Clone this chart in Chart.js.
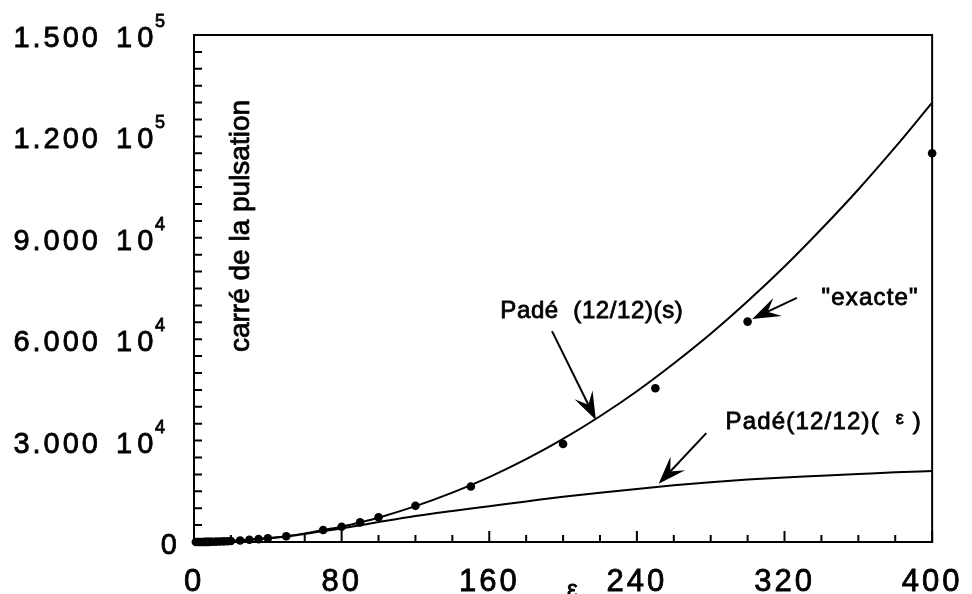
<!DOCTYPE html>
<html>
<head>
<meta charset="utf-8">
<script src="https://cdn.jsdelivr.net/npm/chart.js@4.4.1/dist/chart.umd.min.js"></script>
<style>
  html, body { margin: 0; padding: 0; background: #fff; }
</style>
</head>
<body>
<canvas id="pulsationChart" width="972" height="594"></canvas>
<script>
const FONT = '"Liberation Sans", Arial, Helvetica, sans-serif';

const xTickValues = [0, 80, 160, 240, 320, 400];
const yTickValues = [0, 30000, 60000, 90000, 120000, 150000];
const yTickMantissa = ['0', '3.000', '6.000', '9.000', '1.200', '1.500'];
const yTickPower = ['', '4', '4', '4', '5', '5'];
const xMinorStep = 20;
const yMinorStep = 5000;

// Padé (12/12)(s)
const padeSX = [0, 10, 20, 30, 40, 50, 60, 70, 80, 90, 100, 120, 140, 160, 180, 200, 220, 240, 260, 280, 300, 320, 340, 360, 380, 400];
const padeSY = [0, 75, 300, 650, 1100, 1700, 2550, 3550, 4500, 5800, 7200, 10600, 14600, 19200, 24500, 30500, 37200, 44600, 52800, 61600, 71200, 81500, 92600, 104300, 116800, 130000];

// Padé (12/12)(eps)
const padeEpsX = [0, 10, 20, 30, 40, 50, 60, 70, 80, 90, 100, 120, 140, 160, 180, 200, 220, 240, 260, 280, 300, 320, 340, 360, 380, 400];
const padeEpsY = [0, 75, 300, 650, 1100, 1650, 2400, 3200, 4000, 4950, 5900, 7700, 9200, 10600, 12000, 13400, 14600, 15700, 16800, 17700, 18500, 19100, 19600, 20100, 20600, 21000];

// "exacte"
const exactX = [1, 2, 3, 4, 5, 6, 7, 8, 9, 10, 12, 14, 16, 18, 20, 25, 30, 35, 40, 50, 70, 80, 90, 100, 120, 150, 200, 250, 300, 400];
const exactY = [1, 3, 7, 12, 19, 27, 37, 48, 61, 75, 108, 147, 192, 243, 300, 460, 650, 860, 1100, 1700, 3550, 4500, 5800, 7300, 10700, 16400, 29000, 45500, 65200, 115000];

function toPoints(xs, ys) {
    let pts = [];
    for (let i in xs) {
        pts.push({ x: xs[i], y: ys[i] });
    }
    return pts;
}

function drawArrow(ctx, x1, y1, x2, y2) {
    const ang = Math.atan2(y2 - y1, x2 - x1);
    const len = 28, half = 10, notch = 17;
    ctx.beginPath();
    ctx.moveTo(x1, y1);
    ctx.lineTo(x2 - Math.cos(ang) * notch, y2 - Math.sin(ang) * notch);
    ctx.stroke();
    ctx.beginPath();
    ctx.moveTo(x2, y2);
    ctx.lineTo(x2 - Math.cos(ang) * len - Math.sin(ang) * half, y2 - Math.sin(ang) * len + Math.cos(ang) * half);
    ctx.lineTo(x2 - Math.cos(ang) * notch, y2 - Math.sin(ang) * notch);
    ctx.lineTo(x2 - Math.cos(ang) * len + Math.sin(ang) * half, y2 - Math.sin(ang) * len - Math.cos(ang) * half);
    ctx.closePath();
    ctx.fill();
}

// scanned text looks a bit heavier: fill + thin stroke
function inkText(ctx, text, x, y) {
    ctx.fillText(text, x, y);
    ctx.strokeText(text, x, y);
}

const textSpacing = {
    id: 'textSpacing',
    beforeDraw(chart) {
        chart.ctx.letterSpacing = '3px';
    }
};

// frame, inward ticks, y labels with powers of ten, annotations
const decorations = {
    id: 'decorations',
    afterDraw(chart) {
        const ctx = chart.ctx;
        const area = chart.chartArea;
        const xs = chart.scales.x;
        const ys = chart.scales.y;
        ctx.save();
        ctx.strokeStyle = '#000';
        ctx.fillStyle = '#000';
        ctx.lineWidth = 2;
        ctx.strokeRect(area.left, area.top, area.right - area.left, area.bottom - area.top);

        ctx.beginPath();
        for (let v = 0; v <= 400; v += xMinorStep) {
            const px = xs.getPixelForValue(v);
            const l = (v % 80 === 0) ? 11 : 7;
            ctx.moveTo(px, area.bottom);
            ctx.lineTo(px, area.bottom - l);
        }
        for (let v = 0; v <= 150000; v += yMinorStep) {
            const py = ys.getPixelForValue(v);
            ctx.moveTo(area.left, py);
            ctx.lineTo(area.left + 8, py);
        }
        ctx.stroke();

        // y tick labels
        ctx.lineWidth = 0.8;
        ctx.textBaseline = 'alphabetic';
        for (let i in yTickValues) {
            const py = ys.getPixelForValue(yTickValues[i]);
            ctx.letterSpacing = '3px';
            ctx.font = '29px ' + FONT;
            ctx.textAlign = 'right';
            if (yTickPower[i] === '') {
                inkText(ctx, yTickMantissa[i], area.left - 14, py + 12);
                continue;
            }
            inkText(ctx, yTickMantissa[i], area.left - 93, py + 12);
            ctx.textAlign = 'left';
            ctx.letterSpacing = '5px';
            inkText(ctx, '10', area.left - 78, py + 12);
            ctx.letterSpacing = '0px';
            ctx.font = '18px ' + FONT;
            inkText(ctx, yTickPower[i], area.left - 39, py - 8);
        }

        ctx.letterSpacing = '0px';
        // axis titles
        ctx.font = '24px ' + FONT;
        ctx.textAlign = 'center';
        inkText(ctx, 'ε', xs.getPixelForValue(troughEps), area.bottom + 55);

        ctx.save();
        ctx.translate(area.left + 47, area.top + 191);
        ctx.rotate(-Math.PI / 2);
        ctx.font = '28px ' + FONT;
        ctx.textBaseline = 'middle';
        inkText(ctx, 'carré de la pulsation', 0, 0);
        ctx.restore();

        // annotations
        ctx.textAlign = 'left';
        ctx.font = '24px ' + FONT;
        ctx.letterSpacing = '0.6px';
        inkText(ctx, 'Padé  (12/12)(s)', xs.getPixelForValue(166), ys.getPixelForValue(66300));
        ctx.letterSpacing = '1.2px';
        inkText(ctx, '"exacte"', xs.getPixelForValue(340), ys.getPixelForValue(70100));
        const lx = xs.getPixelForValue(288), ly = ys.getPixelForValue(33400);
        const head = 'Padé(12/12)(  ';
        inkText(ctx, head, lx, ly);
        let w = ctx.measureText(head).width;
        ctx.font = '18px ' + FONT;
        inkText(ctx, 'ε', lx + w, ly - 5);
        w += ctx.measureText('ε').width;
        ctx.font = '24px ' + FONT;
        inkText(ctx, ' )', lx + w, ly);

        ctx.letterSpacing = '0px';
        ctx.lineWidth = 2;
        drawArrow(ctx, xs.getPixelForValue(194), ys.getPixelForValue(62400), xs.getPixelForValue(217.8), ys.getPixelForValue(36100));
        drawArrow(ctx, xs.getPixelForValue(326.7), ys.getPixelForValue(72200), xs.getPixelForValue(302.5), ys.getPixelForValue(66000));
        drawArrow(ctx, xs.getPixelForValue(277.6), ys.getPixelForValue(32200), xs.getPixelForValue(251.8), ys.getPixelForValue(17200));
        ctx.restore();
    }
};

const troughEps = 205;

new Chart(document.getElementById('pulsationChart'), {
    type: 'scatter',
    data: {
        datasets: [{
            label: 'Padé (12/12)(s)',
            data: toPoints(padeSX, padeSY),
            showLine: true,
            borderColor: '#000',
            borderWidth: 2,
            pointRadius: 0,
            cubicInterpolationMode: 'monotone'
        }, {
            label: 'Padé (12/12)(ε)',
            data: toPoints(padeEpsX, padeEpsY),
            showLine: true,
            borderColor: '#000',
            borderWidth: 2,
            pointRadius: 0,
            cubicInterpolationMode: 'monotone'
        }, {
            label: '"exacte"',
            data: toPoints(exactX, exactY),
            showLine: false,
            pointRadius: 4.3,
            pointBackgroundColor: '#000',
            pointBorderWidth: 0,
            clip: false
        }]
    },
    options: {
        responsive: false,
        animation: false,
        devicePixelRatio: 1,
        layout: {
            padding: { top: 35, right: 36, left: 0, bottom: 0 }
        },
        scales: {
            x: {
                type: 'linear',
                min: 0,
                max: 400,
                grid: { display: false },
                border: { display: false },
                afterBuildTicks: (scale) => {
                    scale.ticks = xTickValues.map(v => ({ value: v }));
                },
                afterFit: (scale) => { scale.height = 52; },
                ticks: {
                    color: '#000',
                    font: { family: FONT, size: 31 },
                    textStrokeColor: '#000',
                    textStrokeWidth: 0.8,
                    padding: 14,
                    maxRotation: 0,
                    autoSkip: false
                }
            },
            y: {
                type: 'linear',
                min: 0,
                max: 150000,
                grid: { display: false },
                border: { display: false },
                afterBuildTicks: (scale) => {
                    scale.ticks = yTickValues.map(v => ({ value: v }));
                },
                afterFit: (scale) => { scale.width = 194; },
                ticks: { display: false }
            }
        },
        plugins: {
            legend: { display: false },
            tooltip: { enabled: false }
        }
    },
    plugins: [textSpacing, decorations]
});
</script>
</body>
</html>
